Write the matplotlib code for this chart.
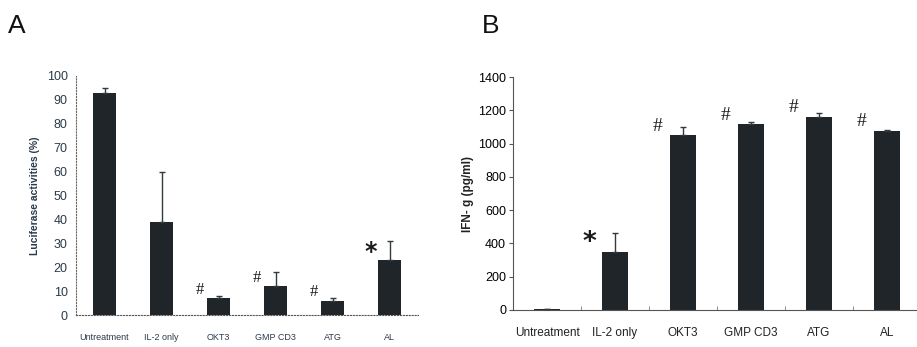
import numpy as np
import matplotlib
matplotlib.use("Agg")
import matplotlib.pyplot as plt

plt.rcParams["font.family"] = ["Liberation Sans", "DejaVu Sans"]

groups = ["Untreatment", "IL-2 only", "OKT3", "GMP CD3", "ATG", "AL"]

# (A) luciferase activity, %
luc_mean = [93, 39, 7, 12, 6, 23]
luc_err = [2, 21, 1, 6, 1, 8]
luc_marks = ["", "", "#", "#", "#", "*"]

# (B) IFN-g, pg/ml
ifn_mean = [5, 350, 1050, 1115, 1160, 1075]
ifn_err = [0, 115, 50, 15, 25, 5]
ifn_marks = ["", "*", "#", "#", "#", "#"]

BAR = "#1f2528"
W, H = 917, 347
fig = plt.figure(figsize=(W / 100, H / 100), dpi=100)

x = np.arange(len(groups))


def mark(ax, xi, y, m, big):
    if m == "*":
        ax.text(xi, y, m, ha="center", va="center", fontsize=big + 5,
                fontweight="bold", family="DejaVu Sans", color="#1a1a1a")
    else:
        ax.text(xi, y, m, ha="center", va="center", fontsize=big,
                family="Liberation Serif", color="#1a1a1a")


# ---------- A ----------
axA = fig.add_axes([76 / W, 32 / H, 342 / W, 239 / H])
axA.bar(x, luc_mean, width=0.39, color=BAR, zorder=2)
axA.errorbar(x, luc_mean, yerr=[np.zeros(len(x)), luc_err], fmt="none",
             ecolor="#333a3e", elinewidth=1, capsize=2, capthick=1, zorder=3)
for xi, v, m in zip(x, luc_mean, luc_marks):
    if m:
        mark(axA, xi - 0.33, v + 3.5, m, 12)
axA.set_xlim(-0.5, 5.5)
axA.set_ylim(0, 100)
axA.set_yticks(np.arange(0, 101, 10))
axA.set_xticks(x)
axA.set_xticklabels(groups, fontsize=6.5, color="#2a3a4a")
axA.tick_params(axis="x", length=0, pad=13)
axA.tick_params(axis="y", length=0, pad=6, labelsize=9, labelcolor="#2a3a4a")
for s in ["top", "right"]:
    axA.spines[s].set_visible(False)
axA.spines["left"].set_linestyle(":")
axA.spines["left"].set_color("#666")
axA.spines["bottom"].set_linestyle(":")
axA.spines["bottom"].set_color("#555")
axA.set_ylabel("Luciferase activities (%)", fontsize=7.5, fontweight="bold",
               color="#2a3a4a", labelpad=5)

# ---------- B ----------
axB = fig.add_axes([513 / W, 37 / H, 408 / W, 233 / H])
axB.bar(x, ifn_mean, width=0.39, color=BAR, zorder=2)
axB.errorbar(x, ifn_mean, yerr=[np.zeros(len(x)), ifn_err], fmt="none",
             ecolor="#333a3e", elinewidth=1, capsize=2, capthick=1, zorder=3)
for xi, v, m in zip(x, ifn_mean, ifn_marks):
    if m:
        mark(axB, xi - 0.37, v + 55, m, 14)
axB.set_xlim(-0.5, 5.5)
axB.set_ylim(0, 1400)
axB.set_yticks(np.arange(0, 1401, 200))
axB.set_xticks(x)
axB.set_xticklabels(groups, fontsize=8.5, color="#222")
axB.set_xticks(np.arange(-0.5, 5.6, 1), minor=True)
axB.tick_params(axis="x", which="major", length=0, pad=12)
axB.tick_params(axis="x", which="minor", length=3, direction="in", color="#777")
axB.tick_params(axis="y", length=3, pad=2, labelsize=9, color="#555")
for s in ["top", "right"]:
    axB.spines[s].set_visible(False)
axB.spines["left"].set_color("#555")
axB.spines["bottom"].set_color("#555")
axB.set_ylabel("IFN- g (pg/ml)", fontsize=8.5, fontweight="bold",
               color="#222", labelpad=3)

fig.text(8 / W, 1 - 33 / H, "A", fontsize=19, color="#111")
fig.text(482 / W, 1 - 33 / H, "B", fontsize=19, color="#111")

fig.savefig("out.png", dpi=100)
